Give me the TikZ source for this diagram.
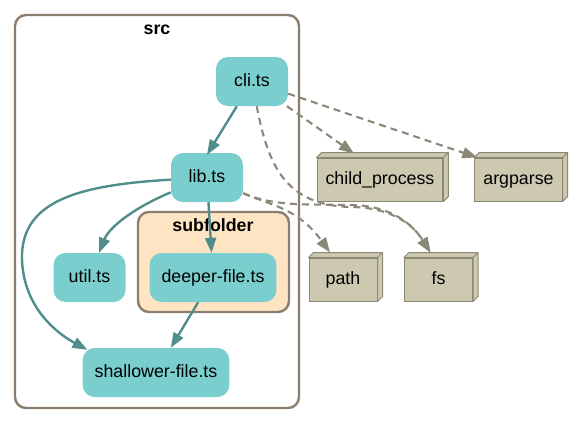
\documentclass[tikz,border=0pt]{standalone}
\usepackage{fontspec}
\setmainfont{Liberation Sans}
\usetikzlibrary{positioning,arrows.meta}

\definecolor{fileteal}{RGB}{122,207,206}
\definecolor{edgeteal}{RGB}{80,142,140}
\definecolor{clusterline}{RGB}{139,126,110}
\definecolor{folderfill}{RGB}{255,228,196}
\definecolor{extfill}{RGB}{205,201,177}
\definecolor{extline}{RGB}{140,137,115}
\definecolor{extedge}{RGB}{138,136,120}

\tikzset{
	file/.style={fill=fileteal,rounded corners=12pt,minimum width=72pt,minimum height=49pt,inner xsep=12pt,text height=12.5pt,text depth=3.5pt},
	ext/.style={draw=extline,fill=extfill,line width=1pt,minimum width=68pt,minimum height=43pt,inner xsep=8.5pt,text height=12.5pt,text depth=3.5pt},
	extface/.style={draw=extline,fill=extfill,line width=1pt,line join=round},
	cluster/.style={draw=clusterline,line width=2.4pt,rounded corners=11pt},
	clusterlabel/.style={font=\fontsize{17.8}{20}\selectfont\bfseries,inner sep=0pt},
	dep/.style={draw=edgeteal,line width=2.4pt,-{Triangle[length=15pt,width=11pt]}},
	extdep/.style={draw=extedge,line width=2.1pt,dash pattern=on 7pt off 5pt,-{Triangle[length=15pt,width=11pt]}}
}

\begin{document}
\begin{tikzpicture}[x=1pt,y=-1pt,every node/.style={font=\fontsize{17.8}{20}\selectfont}]
\useasboundingbox (0,0) rectangle (573,424);
% clusters
\draw[cluster,fill=white] (15,15) rectangle (299,408);
\node[clusterlabel] (srclabel) at (157,30) {src};
\draw[cluster,fill=folderfill] (138,212) rectangle (289,312);
\node[clusterlabel] (subfolderlabel) at (213,225) {subfolder};
% modules
\node[file] (cli) at (252,81.5) {cli.ts};
\node[file] (lib) at (207,177.5) {lib.ts};
\node[file] (util) at (89.5,277.5) {util.ts};
\node[file] (deeper) at (213,277.5) {deeper-file.ts};
\node[file] (shallower) at (156,372.5) {shallower-file.ts};
% external modules
\foreach \n/\t/\x/\y in {childproc/child\_process/380/179.5,argparse/argparse/518.5/179.5,path/path/343/279.5,fs/fs/438.5/279.5}
	\node[ext] (\n) at (\x,\y) {\t};
\foreach \n in {childproc,argparse,path,fs}
	\draw[extface] (\n.north west) -- ++(5,-5) -- ([shift={(5,-5)}]\n.north east) -- ([shift={(5,-5)}]\n.south east) -- (\n.south east) -- (\n.north east) -- cycle (\n.north east) -- ++(5,-5);
% dependencies
\draw[dep] (cli) -- ([yshift=-2pt]lib.north);
\draw[dep] (lib) -- (deeper);
\draw[dep] (lib) .. controls (140,205) and (110,225) .. (util);
\draw[dep] (lib) .. controls (80,185) and (20,200) .. (22,260) .. controls (24,310) and (60,335) .. ([shift={(5,2)}]shallower.north west);
\draw[dep] (deeper) -- (shallower);
\draw[extdep] (cli) -- ([shift={(-26,-4)}]childproc.north);
\draw[extdep] (cli) -- ([shift={(3,0)}]argparse.north west);
\draw[extdep] (cli) .. controls (268,165) and (285,205) .. (350,207) .. controls (385,207) and (410,220) .. ([shift={(-8,-5)}]fs.north);
\draw[extdep] (lib) .. controls (275,207) and (310,204) .. (350,205) .. controls (385,205) and (410,220) .. ([shift={(-8,-5)}]fs.north);
\draw[extdep] (lib) .. controls (270,205) and (298,208) .. ([shift={(-13,-5)}]path.north);
\end{tikzpicture}
\end{document}
